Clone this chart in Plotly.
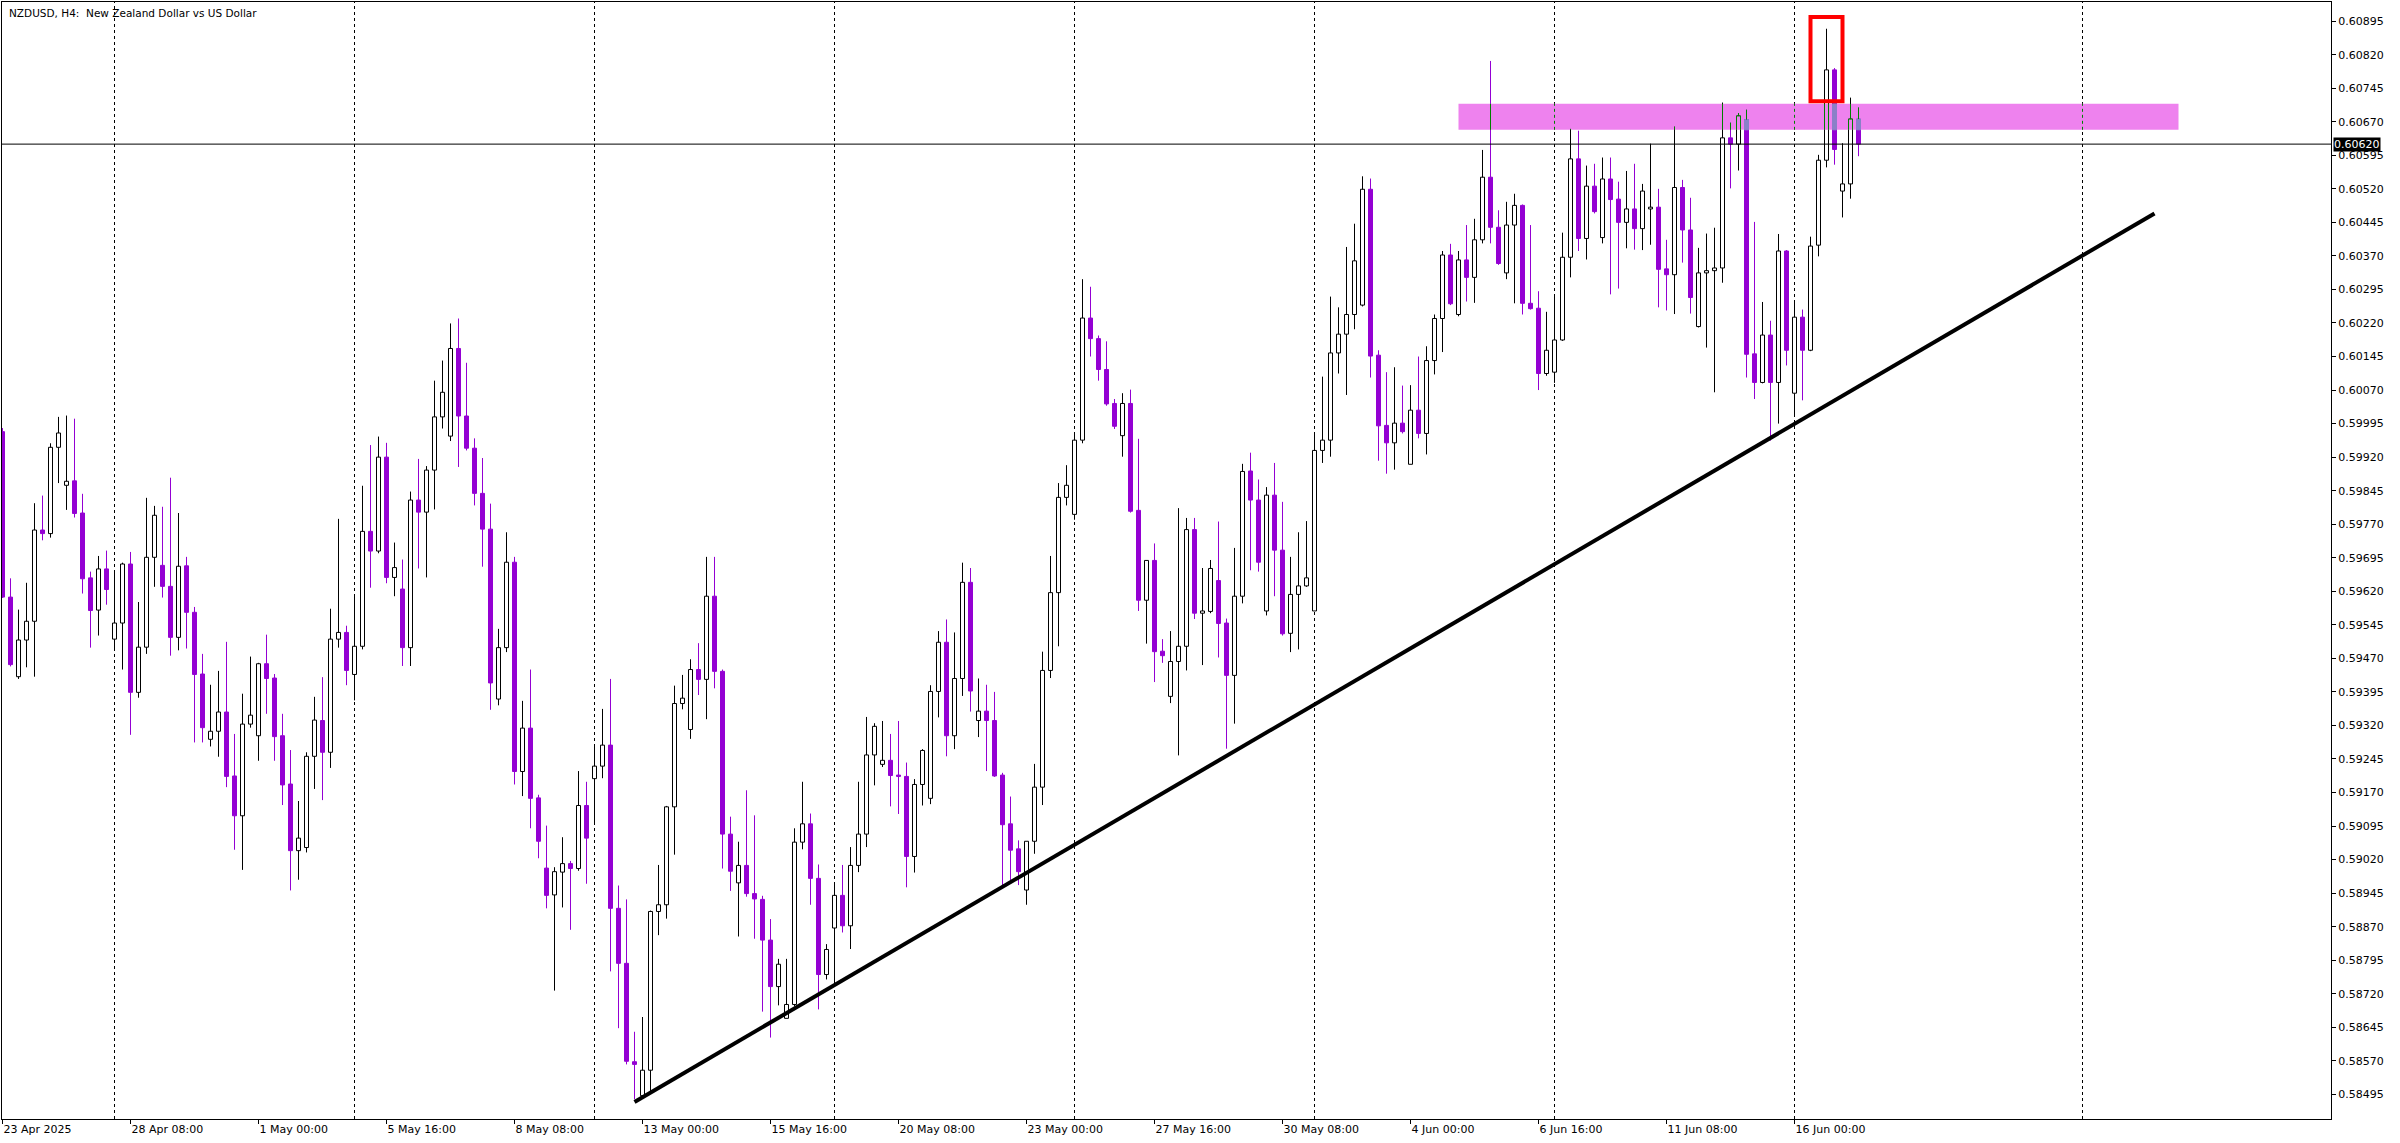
import numpy as np
import pandas as pd
import plotly.graph_objects as go

symbol_title = "NZDUSD, H4:  New Zealand Dollar vs US Dollar"
first_bar_time = "2025-04-23 16:00"   # H4 bars, weekdays only

open_ = [
    0.59977, 0.59607, 0.59429, 0.59511, 0.59553, 0.59757, 0.59749, 0.59942, 0.59857, 0.59867, 0.59795, 0.59650, 0.59578, 0.59670,
    0.59513, 0.59549, 0.59681, 0.59394, 0.59495, 0.59696, 0.59678, 0.59631, 0.59517, 0.59677,
    0.59573, 0.59435, 0.59289, 0.59307, 0.59350, 0.59207, 0.59118, 0.59323, 0.59297, 0.59458,
    0.59426, 0.59297, 0.59189, 0.59040, 0.59047, 0.59251, 0.59331, 0.59260, 0.59513, 0.59528,
    0.59434, 0.59497, 0.59754, 0.59710, 0.59920, 0.59651, 0.59625, 0.59494, 0.59824, 0.59797,
    0.59891, 0.60010, 0.59967, 0.60163, 0.60012, 0.59940, 0.59839, 0.59759, 0.59379, 0.59494,
    0.59685, 0.59217, 0.59314, 0.59158, 0.59001, 0.58941, 0.58992, 0.59011, 0.59000, 0.59141,
    0.59201, 0.59229, 0.59276, 0.58911, 0.58788, 0.58568, 0.58492, 0.58549, 0.58904, 0.58919,
    0.59138, 0.59369, 0.59311, 0.59445, 0.59423, 0.59609, 0.59441, 0.59077, 0.58968, 0.59007,
    0.58944, 0.58931, 0.58840, 0.58736, 0.58665, 0.58696, 0.59059, 0.59100, 0.58978, 0.58763,
    0.58867, 0.58940, 0.58872, 0.59007, 0.59077, 0.59254, 0.59233, 0.59242, 0.59209, 0.59206,
    0.59027, 0.59188, 0.59157, 0.59396, 0.59506, 0.59297, 0.59425, 0.59640, 0.59331, 0.59352,
    0.59331, 0.59209, 0.59100, 0.59044, 0.58952, 0.59061, 0.59182, 0.59443, 0.59617, 0.59830,
    0.59792, 0.59958, 0.60231, 0.60185, 0.60116, 0.60040, 0.59968, 0.60040, 0.59801, 0.59600,
    0.59689, 0.59486, 0.59385, 0.59463, 0.59497, 0.59758, 0.59571, 0.59575, 0.59644, 0.59549,
    0.59432, 0.59609, 0.59889, 0.59824, 0.59576, 0.59835, 0.59712, 0.59526, 0.59613, 0.59632,
    0.59576, 0.59935, 0.59958, 0.60153, 0.60195, 0.60239, 0.60260, 0.60519, 0.60148, 0.59991,
    0.59952, 0.59996, 0.59904, 0.60025, 0.59973, 0.60136, 0.60230, 0.60372, 0.60239, 0.60361,
    0.60322, 0.60406, 0.60546, 0.60434, 0.60332, 0.60439, 0.60483, 0.60264, 0.60253, 0.60107,
    0.60110, 0.60182, 0.60367, 0.60587, 0.60409, 0.60526, 0.60411, 0.60542, 0.60497, 0.60445,
    0.60475, 0.60431, 0.60475, 0.60479, 0.60341, 0.60328, 0.60523, 0.60428, 0.60212, 0.60332,
    0.60337, 0.60343, 0.60634, 0.60620, 0.60675, 0.60151, 0.60087, 0.60193, 0.60087, 0.60381,
    0.60063, 0.60233, 0.60159, 0.60394, 0.60584, 0.60786, 0.60515, 0.60531, 0.60676,
]
high = [
    0.59985, 0.59649, 0.59579, 0.59639, 0.59817, 0.59834, 0.59951, 0.60010, 0.60013, 0.60006, 0.59838, 0.59664, 0.59699, 0.59711,
    0.59664, 0.59684, 0.59708, 0.59596, 0.59829, 0.59811, 0.59809, 0.59874, 0.59795, 0.59697,
    0.59585, 0.59480, 0.59411, 0.59442, 0.59507, 0.59301, 0.59391, 0.59474, 0.59460, 0.59523,
    0.59435, 0.59346, 0.59265, 0.59151, 0.59260, 0.59384, 0.59428, 0.59581, 0.59782, 0.59543,
    0.59610, 0.59856, 0.59947, 0.59966, 0.59952, 0.59729, 0.59691, 0.59843, 0.59916, 0.59900,
    0.60091, 0.60136, 0.60219, 0.60230, 0.60131, 0.59962, 0.59918, 0.59816, 0.59536, 0.59752,
    0.59697, 0.59375, 0.59445, 0.59165, 0.59096, 0.59003, 0.59070, 0.59017, 0.59218, 0.59194,
    0.59272, 0.59357, 0.59424, 0.58962, 0.58931, 0.58635, 0.58668, 0.58906, 0.59008, 0.59140,
    0.59409, 0.59433, 0.59468, 0.59504, 0.59697, 0.59697, 0.59445, 0.59116, 0.59060, 0.59175,
    0.59119, 0.58939, 0.58887, 0.58798, 0.58798, 0.59090, 0.59194, 0.59123, 0.59009, 0.58831,
    0.58965, 0.59008, 0.59048, 0.59194, 0.59339, 0.59325, 0.59330, 0.59301, 0.59330, 0.59237,
    0.59200, 0.59267, 0.59410, 0.59531, 0.59557, 0.59528, 0.59684, 0.59672, 0.59425, 0.59411,
    0.59395, 0.59214, 0.59161, 0.59063, 0.59061, 0.59234, 0.59485, 0.59699, 0.59862, 0.59902,
    0.59974, 0.60318, 0.60301, 0.60192, 0.60179, 0.60050, 0.60063, 0.60071, 0.59961, 0.59689,
    0.59727, 0.59513, 0.59531, 0.59806, 0.59784, 0.59784, 0.59672, 0.59690, 0.59776, 0.59559,
    0.59717, 0.59905, 0.59930, 0.59870, 0.59853, 0.59907, 0.59820, 0.59697, 0.59752, 0.59777,
    0.59971, 0.60100, 0.60279, 0.60255, 0.60390, 0.60442, 0.60548, 0.60543, 0.60159, 0.60110,
    0.60121, 0.60080, 0.60081, 0.60145, 0.60168, 0.60239, 0.60381, 0.60397, 0.60381, 0.60439,
    0.60453, 0.60607, 0.60806, 0.60472, 0.60491, 0.60509, 0.60485, 0.60439, 0.60291, 0.60245,
    0.60283, 0.60422, 0.60654, 0.60650, 0.60572, 0.60576, 0.60590, 0.60590, 0.60536, 0.60560,
    0.60576, 0.60531, 0.60621, 0.60520, 0.60406, 0.60659, 0.60540, 0.60500, 0.60388, 0.60420,
    0.60433, 0.60713, 0.60668, 0.60689, 0.60697, 0.60446, 0.60267, 0.60225, 0.60419, 0.60383,
    0.60267, 0.60250, 0.60413, 0.60596, 0.60878, 0.60790, 0.60622, 0.60724, 0.60702,
]
low = [
    0.59605, 0.59452, 0.59424, 0.59450, 0.59429, 0.59734, 0.59740, 0.59862, 0.59802, 0.59785, 0.59615, 0.59494, 0.59521, 0.59590,
    0.59492, 0.59445, 0.59299, 0.59382, 0.59480, 0.59630, 0.59606, 0.59476, 0.59488, 0.59492,
    0.59282, 0.59282, 0.59273, 0.59250, 0.59182, 0.59042, 0.58997, 0.59315, 0.59241, 0.59346,
    0.59241, 0.59142, 0.58951, 0.58975, 0.59036, 0.59178, 0.59153, 0.59225, 0.59494, 0.59410,
    0.59376, 0.59490, 0.59628, 0.59705, 0.59638, 0.59609, 0.59453, 0.59453, 0.59671, 0.59651,
    0.59803, 0.59984, 0.59956, 0.59898, 0.59935, 0.59812, 0.59675, 0.59355, 0.59365, 0.59484,
    0.59188, 0.59162, 0.59090, 0.59023, 0.58911, 0.58727, 0.58913, 0.58863, 0.58995, 0.58966,
    0.59103, 0.59202, 0.58770, 0.58643, 0.58562, 0.58484, 0.58488, 0.58500, 0.58851, 0.58888,
    0.59031, 0.59356, 0.59290, 0.59388, 0.59334, 0.59403, 0.59000, 0.58950, 0.58848, 0.58937,
    0.58843, 0.58680, 0.58622, 0.58694, 0.58665, 0.58692, 0.59043, 0.58919, 0.58685, 0.58752,
    0.58741, 0.58857, 0.58820, 0.58992, 0.59048, 0.59186, 0.59227, 0.59139, 0.59122, 0.58958,
    0.58991, 0.59141, 0.59144, 0.59338, 0.59251, 0.59267, 0.59386, 0.59351, 0.59294, 0.59218,
    0.59205, 0.58963, 0.58974, 0.58963, 0.58919, 0.59033, 0.59142, 0.59426, 0.59497, 0.59812,
    0.59780, 0.59951, 0.60145, 0.60091, 0.60035, 0.59983, 0.59921, 0.59796, 0.59576, 0.59503,
    0.59417, 0.59460, 0.59370, 0.59253, 0.59443, 0.59558, 0.59455, 0.59571, 0.59472, 0.59268,
    0.59324, 0.59593, 0.59667, 0.59664, 0.59566, 0.59609, 0.59521, 0.59484, 0.59490, 0.59630,
    0.59576, 0.59907, 0.59921, 0.60107, 0.60059, 0.60206, 0.60257, 0.60098, 0.59912, 0.59883,
    0.59892, 0.59973, 0.59904, 0.59962, 0.59926, 0.60105, 0.60155, 0.60260, 0.60235, 0.60268,
    0.60265, 0.60398, 0.60398, 0.60350, 0.60318, 0.60264, 0.60239, 0.60250, 0.60070, 0.60102,
    0.60086, 0.60180, 0.60322, 0.60381, 0.60362, 0.60465, 0.60398, 0.60284, 0.60297, 0.60387,
    0.60384, 0.60383, 0.60395, 0.60255, 0.60248, 0.60240, 0.60355, 0.60241, 0.60210, 0.60165,
    0.60065, 0.60310, 0.60521, 0.60561, 0.60098, 0.60050, 0.60085, 0.59957, 0.59995, 0.60125,
    0.60015, 0.60047, 0.60157, 0.60369, 0.60568, 0.60574, 0.60456, 0.60498, 0.60593,
]
close = [
    0.59607, 0.59456, 0.59511, 0.59553, 0.59757, 0.59749, 0.59942, 0.59974, 0.59866, 0.59794, 0.59648, 0.59577, 0.59670, 0.59624,
    0.59549, 0.59681, 0.59394, 0.59495, 0.59696, 0.59790, 0.59631, 0.59517, 0.59676, 0.59573,
    0.59434, 0.59315, 0.59307, 0.59350, 0.59206, 0.59118, 0.59323, 0.59343, 0.59458, 0.59425,
    0.59295, 0.59187, 0.59040, 0.59068, 0.59251, 0.59332, 0.59260, 0.59513, 0.59528, 0.59443,
    0.59497, 0.59754, 0.59710, 0.59920, 0.59651, 0.59673, 0.59494, 0.59824, 0.59797, 0.59891,
    0.60010, 0.60065, 0.60163, 0.60012, 0.59940, 0.59839, 0.59759, 0.59415, 0.59494, 0.59685,
    0.59217, 0.59314, 0.59157, 0.59061, 0.58940, 0.58993, 0.59011, 0.59000, 0.59141, 0.59068,
    0.59229, 0.59276, 0.58911, 0.58788, 0.58569, 0.58562, 0.58549, 0.58904, 0.58919, 0.59138,
    0.59369, 0.59381, 0.59445, 0.59423, 0.59609, 0.59441, 0.59077, 0.58994, 0.59007, 0.58944,
    0.58932, 0.58840, 0.58736, 0.58786, 0.58696, 0.59059, 0.59100, 0.58978, 0.58763, 0.58819,
    0.58940, 0.58872, 0.59007, 0.59077, 0.59254, 0.59318, 0.59242, 0.59208, 0.59206, 0.59027,
    0.59188, 0.59264, 0.59396, 0.59506, 0.59297, 0.59425, 0.59640, 0.59397, 0.59352, 0.59331,
    0.59207, 0.59098, 0.59041, 0.58993, 0.59061, 0.59182, 0.59443, 0.59617, 0.59830, 0.59857,
    0.59958, 0.60231, 0.60185, 0.60116, 0.60039, 0.59989, 0.60040, 0.59799, 0.59600, 0.59689,
    0.59485, 0.59476, 0.59463, 0.59497, 0.59758, 0.59571, 0.59576, 0.59671, 0.59548, 0.59432,
    0.59609, 0.59888, 0.59824, 0.59685, 0.59835, 0.59712, 0.59525, 0.59613, 0.59632, 0.59650,
    0.59935, 0.59958, 0.60153, 0.60195, 0.60239, 0.60359, 0.60519, 0.60146, 0.59990, 0.59952,
    0.59996, 0.59977, 0.60025, 0.59973, 0.60136, 0.60230, 0.60372, 0.60263, 0.60361, 0.60322,
    0.60406, 0.60546, 0.60434, 0.60353, 0.60439, 0.60483, 0.60264, 0.60252, 0.60107, 0.60159,
    0.60182, 0.60367, 0.60587, 0.60409, 0.60526, 0.60469, 0.60542, 0.60496, 0.60445, 0.60475,
    0.60431, 0.60515, 0.60479, 0.60340, 0.60328, 0.60523, 0.60428, 0.60277, 0.60332, 0.60337,
    0.60343, 0.60634, 0.60620, 0.60683, 0.60150, 0.60087, 0.60193, 0.60087, 0.60381, 0.60159,
    0.60233, 0.60159, 0.60392, 0.60584, 0.60786, 0.60608, 0.60531, 0.60676, 0.60620,
]

tick_times = ["2025-04-23 16:00", "2025-04-28 08:00", "2025-05-01 00:00", "2025-05-05 16:00",
              "2025-05-08 08:00", "2025-05-13 00:00", "2025-05-15 16:00", "2025-05-20 08:00",
              "2025-05-23 00:00", "2025-05-27 16:00", "2025-05-30 08:00", "2025-06-04 00:00",
              "2025-06-06 16:00", "2025-06-11 08:00", "2025-06-16 00:00"]
tick_labels = ["23 Apr 2025", "28 Apr 08:00", "1 May 00:00", "5 May 16:00", "8 May 08:00",
               "13 May 00:00", "15 May 16:00", "20 May 08:00", "23 May 00:00", "27 May 16:00",
               "30 May 08:00", "4 Jun 00:00", "6 Jun 16:00", "11 Jun 08:00", "16 Jun 00:00"]
grid_times = ["2025-04-28 00:00", "2025-05-05 00:00", "2025-05-12 00:00", "2025-05-19 00:00",
              "2025-05-26 00:00", "2025-06-02 00:00", "2025-06-09 00:00", "2025-06-16 00:00",
              "2025-06-24 00:00"]
price_ticks = [0.58495, 0.58570, 0.58645, 0.58720, 0.58795, 0.58870, 0.58945, 0.59020, 0.59095,
               0.59170, 0.59245, 0.59320, 0.59395, 0.59470, 0.59545, 0.59620, 0.59695, 0.59770,
               0.59845, 0.59920, 0.59995, 0.60070, 0.60145, 0.60220, 0.60295, 0.60370, 0.60445,
               0.60520, 0.60595, 0.60670, 0.60745, 0.60820, 0.60895]
last_price = 0.60620
zone_times = ["2025-06-05 00:00", "2025-06-26 00:00"]
zone_prices = [0.60652, 0.60710]
box_times = ["2025-06-16 08:00", "2025-06-17 00:00"]
box_prices = [0.60716, 0.60904]
trend_times = ["2025-05-12 20:00", "2025-06-25 12:00"]
trend_prices = [0.58478, 0.60465]

BULL_LINE = "#000000"
BEAR = "#9400D3"
ZONE = "#EE82EE"
ZONE_LINE = "#008000"
ZONE_BEAR = "#8A80C8"
FONT = "DejaVu Sans"

# ---- bar index for times (H4, weekdays) ----
bar_times = []
t = pd.Timestamp(first_bar_time)
while len(bar_times) < 330:
    if t.dayofweek < 5:
        bar_times.append(t)
    t += pd.Timedelta(hours=4)
pos = {tt: k for k, tt in enumerate(bar_times)}


def bx(s):
    return pos[pd.Timestamp(s)]


o = np.array(open_)
h = np.array(high)
l = np.array(low)
c = np.array(close)
x = np.arange(len(o))
top = np.maximum(o, c)
bot = np.minimum(o, c)
bull = c >= o
BW = 0.5

fig = go.Figure()


def wicks(mask):
    xs, ys = [], []
    for k in np.where(mask)[0]:
        xs += [k, k, None, k, k, None]
        ys += [h[k], top[k], None, bot[k], l[k], None]
    return xs, ys


for mask, col in ((bull, BULL_LINE), (~bull, BEAR)):
    wx, wy = wicks(mask)
    fig.add_trace(go.Scatter(x=wx, y=wy, mode="lines", line=dict(color=col, width=1),
                             hoverinfo="skip", showlegend=False))

fig.add_trace(go.Bar(x=x[bull], y=np.maximum(top - bot, 2e-6)[bull], base=bot[bull], width=BW,
                     marker=dict(color="white", line=dict(color=BULL_LINE, width=1)),
                     hoverinfo="skip", showlegend=False))
fig.add_trace(go.Bar(x=x[~bull], y=np.maximum(top - bot, 2e-6)[~bull], base=bot[~bull], width=BW,
                     marker=dict(color=BEAR, line=dict(color=BEAR, width=1)),
                     hoverinfo="skip", showlegend=False))

# ---- zone overlay (colours inverted inside the rectangle, like the terminal does) ----
zb, zt = zone_prices
zx0, zx1 = bx(zone_times[0]), bx(zone_times[1])
gx, gy = [], []
bear_k, bear_b, bear_t = [], [], []
bull_k, bull_b, bull_t = [], [], []


def clip(a, b):
    a2, b2 = max(a, zb), min(b, zt)
    return (a2, b2) if b2 > a2 else None


for k in x:
    if not (zx0 <= k <= zx1):
        continue
    for seg in ((top[k], h[k]), (l[k], bot[k])):
        cs = clip(*seg)
        if cs:
            gx += [k, k, None]
            gy += [cs[0], cs[1], None]
    cb = clip(bot[k], top[k])
    if cb:
        if bull[k]:
            bull_k.append(k); bull_b.append(cb[0]); bull_t.append(cb[1])
            for dx in (-BW / 2, BW / 2):
                gx += [k + dx, k + dx, None]
                gy += [cb[0], cb[1], None]
            for edge in (bot[k], top[k]):
                if zb <= edge <= zt:
                    gx += [k - BW / 2, k + BW / 2, None]
                    gy += [edge, edge, None]
        else:
            bear_k.append(k); bear_b.append(cb[0]); bear_t.append(cb[1])

if bull_k:
    fig.add_trace(go.Bar(x=bull_k, y=np.array(bull_t) - np.array(bull_b), base=bull_b, width=BW,
                         marker=dict(color=ZONE, line=dict(width=0)), hoverinfo="skip", showlegend=False))
if bear_k:
    fig.add_trace(go.Bar(x=bear_k, y=np.array(bear_t) - np.array(bear_b), base=bear_b, width=BW,
                         marker=dict(color=ZONE_BEAR, line=dict(color=ZONE_BEAR, width=1)),
                         hoverinfo="skip", showlegend=False))
fig.add_trace(go.Scatter(x=gx, y=gy, mode="lines", line=dict(color=ZONE_LINE, width=1),
                         hoverinfo="skip", showlegend=False))

# ---- trend line ----
fig.add_trace(go.Scatter(x=[bx(trend_times[0]), bx(trend_times[1])], y=trend_prices, mode="lines",
                         line=dict(color="black", width=4), hoverinfo="skip", showlegend=False))

shapes = []
for gt in grid_times:
    shapes.append(dict(type="line", xref="x", yref="paper", x0=bx(gt), x1=bx(gt), y0=0, y1=1,
                       line=dict(color="black", width=1, dash="3px,3px"), layer="below"))
shapes.append(dict(type="rect", xref="x", yref="y", x0=zx0, x1=zx1, y0=zb, y1=zt,
                   fillcolor=ZONE, line=dict(width=0), layer="below"))
for gt in grid_times:
    if zx0 <= bx(gt) <= zx1:
        shapes.append(dict(type="line", xref="x", yref="y", x0=bx(gt), x1=bx(gt), y0=zb, y1=zt,
                           line=dict(color=ZONE_LINE, width=1, dash="3px,3px"), layer="below"))
shapes.append(dict(type="line", xref="paper", yref="y", x0=0, x1=1, y0=last_price, y1=last_price,
                   line=dict(color="black", width=1), layer="above"))
shapes.append(dict(type="rect", xref="x", yref="y", x0=bx(box_times[0]), x1=bx(box_times[1]),
                   y0=box_prices[0], y1=box_prices[1], line=dict(color="#FF0000", width=4),
                   fillcolor="rgba(0,0,0,0)", layer="above"))

fig.update_layout(
    width=2400, height=1143,
    margin=dict(l=2, r=69, t=2, b=24),
    paper_bgcolor="white", plot_bgcolor="white",
    barmode="overlay", showlegend=False,
    shapes=shapes,
    font=dict(family=FONT, size=11, color="black"),
    annotations=[
        dict(xref="paper", yref="paper", x=0, y=1, xanchor="left", yanchor="top", xshift=5, yshift=-3,
             text=symbol_title, showarrow=False, font=dict(family=FONT, size=10.5, color="black")),
        dict(xref="paper", yref="y", x=1, y=last_price, xanchor="left", yanchor="middle", xshift=2,
             text=f"{last_price:.5f}", showarrow=False, bgcolor="black", borderpad=0,
             font=dict(family=FONT, size=11, color="white")),
    ],
)
fig.update_xaxes(range=[-0.0625, 291.0625], showgrid=False, zeroline=False,
                 tickmode="array", tickvals=[bx(s) for s in tick_times], ticktext=tick_labels,
                 ticks="outside", ticklen=4, tickcolor="black", ticklabelposition="outside right",
                 tickfont=dict(family=FONT, size=11, color="black"),
                 showline=True, linecolor="black", linewidth=1, mirror=True, fixedrange=True)
fig.update_yaxes(range=[0.584399, 0.609378], side="right", showgrid=False, zeroline=False,
                 tickmode="array", tickvals=price_ticks, ticktext=[f"{v:.5f}" for v in price_ticks],
                 ticks="outside", ticklen=4, tickcolor="black",
                 tickfont=dict(family=FONT, size=11, color="black"),
                 showline=True, linecolor="black", linewidth=1, mirror=True, fixedrange=True)

fig.write_html("out.html", config={"displayModeBar": False},
               post_script="document.body.style.margin='0px';document.body.style.overflow='hidden';")
